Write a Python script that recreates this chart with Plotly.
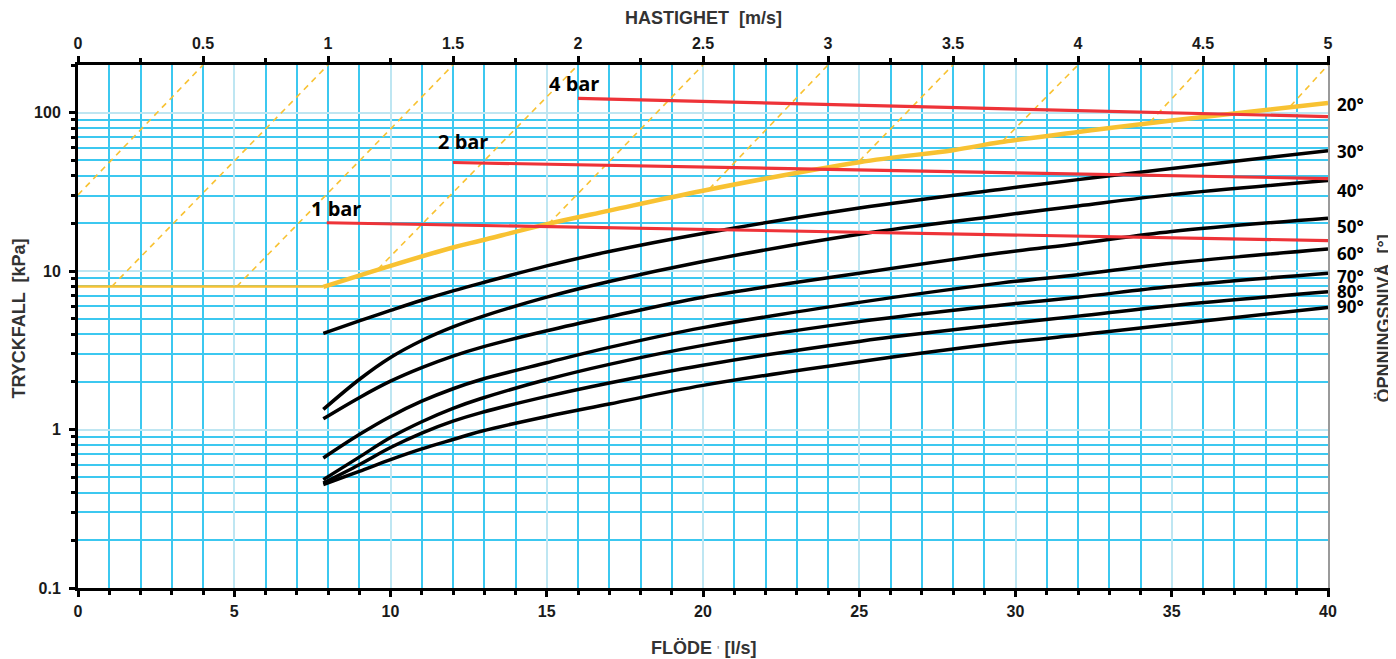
import math
import plotly.graph_objects as go

# ---------------- data ----------------
flow = [7.85, 9, 10, 11, 12, 12.9, 15, 17, 20, 25, 29.5, 32, 35, 40]          # l/s
dp_30 = [4.05, 4.85, 5.65, 6.55, 7.5, 8.4, 10.8, 13.3, 17.3, 25.0, 32.8, 37.8, 44.5, 57.5]
dp_40 = [1.34, 2.07, 2.85, 3.65, 4.45, 5.15, 6.85, 8.6, 11.5, 17.1, 22.4, 25.8, 30.4, 37.3]
dp_50 = [1.17, 1.59, 2.02, 2.46, 2.91, 3.3, 4.2, 5.15, 6.85, 9.7, 13.0, 14.9, 17.8, 21.6]
dp_60 = [0.662, 0.93, 1.21, 1.51, 1.81, 2.07, 2.64, 3.3, 4.4, 6.35, 8.4, 9.5, 11.2, 13.8]
dp_70 = [0.483, 0.67, 0.89, 1.12, 1.36, 1.57, 2.07, 2.58, 3.4, 4.8, 6.1, 6.85, 8.0, 9.7]
dp_80 = [0.46, 0.60, 0.77, 0.95, 1.13, 1.28, 1.62, 1.97, 2.55, 3.6, 4.6, 5.2, 6.05, 7.4]
dp_90 = [0.45, 0.545, 0.646, 0.755, 0.865, 0.975, 1.21, 1.45, 1.9, 2.68, 3.5, 3.95, 4.6, 5.9]
black_curves = [dp_30, dp_40, dp_50, dp_60, dp_70, dp_80, dp_90]

# 20 degree curve (yellow)
flow_20 = [7.85, 10, 12, 12.9, 15, 17, 20, 25, 28, 29.5, 32, 35, 40]
dp_20 = [7.95, 10.8, 14.1, 15.6, 19.8, 24.1, 32.2, 48.7, 58.0, 65.0, 75.5, 89.4, 115.0]
flat_x = [0, 7.85]
flat_y = [8, 8]

# differential pressure limits (red)
bar_labels = ["1 bar", "2 bar", "4 bar"]
bar_x0 = [7.96, 12, 16]
bar_y0 = [20.2, 48.5, 123]
bar_x1 = [40, 40, 40]
bar_y1 = [15.6, 38.4, 94.5]
bar_label_x = [8.26, 12.32, 15.87]
bar_label_y = [24.7, 65.5, 152.6]

# velocity guide lines (dashed yellow)
dash_x0 = [0, 1.08, 5.08, 9.6, 15.05, 20.2, 25.0, 29.6, 34.3, 38.8]
dash_y0 = [30.3, 8, 8, 10.3, 19.8, 33, 49.5, 66.5, 87, 110]
dash_x1 = [4, 8, 12, 16, 20, 24, 28, 32, 36, 40]
dash_y1 = [200] * 10

# opening labels at right side
deg_labels = ["20°", "30°", "40°", "50°", "60°", "70°", "80°", "90°"]
deg_label_y = [114, 57.7, 32.6, 19.4, 13.1, 9.33, 7.47, 6.03]

y_ticks = [0.1, 1, 10, 100]
y_ticktext = ["0.1", "1", "10", "100"]

# ---------------- styling ----------------
BLUE = "#3CC8F0"
LIGHT = "#BEE6F2"
YEL = "#F8C232"
RED = "#EE3338"

fig = go.Figure()

for i in range(len(dash_x0)):
    fig.add_trace(go.Scatter(x=[dash_x0[i], dash_x1[i]], y=[dash_y0[i], dash_y1[i]],
                             mode="lines", line=dict(color=YEL, width=1.6, dash="6px,5px"),
                             hoverinfo="skip", showlegend=False))

fig.add_trace(go.Scatter(x=flat_x, y=flat_y, mode="lines",
                         line=dict(color=YEL, width=2.5), showlegend=False))

for c in black_curves:
    fig.add_trace(go.Scatter(x=flow, y=c, mode="lines",
                             line=dict(color="black", width=3.5, shape="spline", smoothing=1.0),
                             showlegend=False))

fig.add_trace(go.Scatter(x=flow_20, y=dp_20, mode="lines",
                         line=dict(color=YEL, width=4.5, shape="spline", smoothing=1.0),
                         showlegend=False))

for i in range(len(bar_x0)):
    fig.add_trace(go.Scatter(x=[bar_x0[i], bar_x1[i]], y=[bar_y0[i], bar_y1[i]], mode="lines",
                             line=dict(color=RED, width=3.2), showlegend=False))

# helper traces for top and right axes
fig.add_trace(go.Scatter(x=[0, 5], y=[1, 1], xaxis="x2", yaxis="y", mode="lines",
                         line=dict(width=0), hoverinfo="skip", showlegend=False))
fig.add_trace(go.Scatter(x=[0, 40], y=[1, 1], xaxis="x", yaxis="y2", mode="lines",
                         line=dict(width=0), hoverinfo="skip", showlegend=False))

# minor log ticks
minor_vals = []
for dec in [0.1, 1, 10, 100]:
    for k in range(2, 10):
        v = dec * k
        if v <= 200:
            minor_vals.append(v)

tickfont = dict(family="Liberation Sans, Arial", size=16, color="#1a1a1a", weight="bold")

# the page body adds an 8px offset, so the figure is 8px smaller than the window
fig.update_layout(
    width=1388, height=651,
    margin=dict(l=70, r=68, t=57, b=71),
    plot_bgcolor="white", paper_bgcolor="white",
    xaxis=dict(range=[0, 40], dtick=5, tick0=0, showgrid=True, gridcolor=LIGHT, gridwidth=1.5,
               ticks="outside", ticklen=6, tickwidth=3, tickcolor="black",
               showline=True, linecolor="black", linewidth=3, zeroline=False,
               tickfont=tickfont, ticklabelstandoff=1,
               minor=dict(dtick=1, tick0=0, showgrid=True, gridcolor=BLUE, gridwidth=1.5,
                          ticks="outside", ticklen=4, tickwidth=3, tickcolor="black")),
    xaxis2=dict(range=[0, 5], dtick=0.5, tick0=0, overlaying="x", side="top",
                showgrid=False, ticks="outside", ticklen=6, tickwidth=3, tickcolor="black",
                showline=True, linecolor="black", linewidth=3, zeroline=False,
                tickfont=tickfont, ticklabelstandoff=1,
                minor=dict(dtick=0.25, tick0=0, ticks="outside", ticklen=4, tickwidth=3,
                           tickcolor="black", showgrid=False)),
    yaxis=dict(type="log", range=[-1, 2.30103], tickvals=y_ticks, ticktext=y_ticktext,
               showgrid=True, gridcolor=LIGHT, gridwidth=1.5,
               ticks="outside", ticklen=6, tickwidth=3, tickcolor="black",
               showline=True, linecolor="black", linewidth=3, zeroline=False,
               tickfont=tickfont, ticklabelstandoff=5,
               minor=dict(tickvals=minor_vals, showgrid=True, gridcolor=BLUE, gridwidth=1.5,
                          ticks="outside", ticklen=4, tickwidth=3, tickcolor="black")),
    yaxis2=dict(type="log", range=[-1, 2.30103], overlaying="y", side="right",
                showgrid=False, showticklabels=False, ticks="",
                showline=True, linecolor="#9a9a9a", linewidth=1.5, zeroline=False),
)

annots = []
for i, t in enumerate(bar_labels):
    annots.append(dict(x=bar_label_x[i], y=math.log10(bar_label_y[i]),
                       xref="x", yref="y", text=t, showarrow=False,
                       font=dict(family="Open Sans", size=20, color="black", weight="bold"),
                       xanchor="center", yanchor="middle"))
for i, t in enumerate(deg_labels):
    annots.append(dict(x=40, y=math.log10(deg_label_y[i]), xref="x", yref="y",
                       text=t, showarrow=False, xanchor="left", yanchor="middle", xshift=7,
                       height=14, valign="middle",
                       font=dict(family="Open Sans", size=17, color="black", weight="bold")))

title_font = dict(family="Liberation Sans, Arial", size=18, color="#333333", weight="bold")
annots += [
    dict(x=0.5, y=1, xref="paper", yref="paper", yshift=47, text="HASTIGHET  [m/s]",
         showarrow=False, font=title_font, xanchor="center", yanchor="middle"),
    dict(x=0.5, y=0, xref="paper", yref="paper", yshift=-60,
         text="FLÖDE <span style='font-size:10px;color:#999'>'</span> [l/s]",
         showarrow=False, font=title_font, xanchor="center", yanchor="middle"),
    dict(x=0, y=0.5, xref="paper", yref="paper", xshift=-60, yshift=8, text="TRYCKFALL  [kPa]",
         showarrow=False, font=title_font, textangle=-90, xanchor="center", yanchor="middle"),
    dict(x=1, y=0.5, xref="paper", yref="paper", xshift=55, yshift=8, text="ÖPNNINGSNIVÅ  [°]",
         showarrow=False, font=title_font, textangle=-90, xanchor="center", yanchor="middle"),
]
fig.update_layout(annotations=annots)

fig.write_html("out.html")
